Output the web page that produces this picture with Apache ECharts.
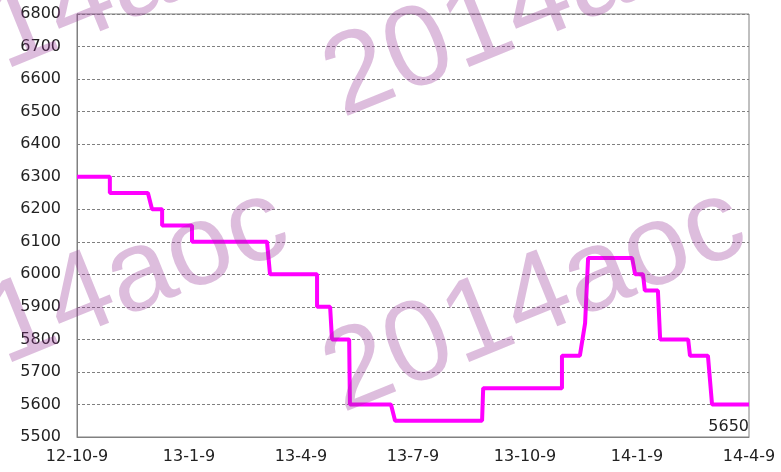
<!DOCTYPE html>
<html>
<head>
<meta charset="utf-8">
<script src="https://cdn.jsdelivr.net/npm/echarts@6/dist/echarts.min.js"></script>
<style>
  html, body { margin: 0; padding: 0; background: #fff; }
  #main { width: 781px; height: 472px; }
</style>
</head>
<body>
<div id="main"></div>
<script>
// x: months since 2012-10-9, y: price
var monthOffsets = [0, 0.88, 0.88, 1.90, 2.01, 2.28, 2.28, 3.08, 3.08, 5.09, 5.17, 6.43, 6.43, 6.78, 6.83, 7.29, 7.31, 8.41, 8.52, 10.85, 10.88, 12.99, 12.99, 13.47, 13.61, 13.69, 14.87, 14.95, 15.16, 15.21, 15.56, 15.62, 16.37, 16.42, 16.90, 17.01, 18.0];
var prices = [6300, 6300, 6250, 6250, 6200, 6200, 6150, 6150, 6100, 6100, 6000, 6000, 5900, 5900, 5800, 5800, 5600, 5600, 5550, 5550, 5650, 5650, 5750, 5750, 5850, 6050, 6050, 6000, 6000, 5950, 5950, 5800, 5800, 5750, 5750, 5600, 5600];
var xTickLabels = ['12-10-9', '13-1-9', '13-4-9', '13-7-9', '13-10-9', '14-1-9', '14-4-9'];
var lastLabel = '5650';

var points = monthOffsets.map(function (m, i) { return [m, prices[i]]; });

var font = 'DejaVu Sans';
var wmText = '2014aoc';
var wmStyle = { text: wmText, font: '115px "Liberation Sans"', fill: 'rgba(150,50,150,0.32)' };
var wmPos = [[352, 437], [352, 142], [-105, 437], [-105, 142]];

var myChart = echarts.init(document.getElementById('main'));
var options = {
    animation: false,
    grid: { left: 77, right: 32, top: 14, bottom: 35, show: true, borderColor: '#808080', borderWidth: 1 },
    xAxis: {
        type: 'value', min: 0, max: 18, interval: 3,
        axisLine: { show: true, lineStyle: { color: '#808080', width: 1 } },
        axisTick: { show: false },
        splitLine: { show: false },
        axisLabel: {
            color: '#222', fontFamily: font, fontSize: 16, margin: 12,
            formatter: function (v) { return xTickLabels[Math.round(v / 3)]; }
        }
    },
    yAxis: {
        type: 'value', min: 5500, max: 6800, interval: 100,
        axisLine: { show: true, lineStyle: { color: '#808080', width: 1 } },
        axisTick: { show: false },
        splitLine: { show: true, lineStyle: { color: '#808080', type: [3, 2], width: 1 } },
        axisLabel: { color: '#222', fontFamily: font, fontSize: 16, margin: 16,
            formatter: function (v) { return String(v); } }
    },
    series: [{
        type: 'line',
        data: points,
        showSymbol: false,
        lineStyle: { color: '#ff00ff', width: 4 },
        z: 3
    }],
    graphic: wmPos.map(function (p) {
        return {
            type: 'text', x: p[0], y: p[1], rotation: 22 * Math.PI / 180,
            style: Object.assign({ textVerticalAlign: 'bottom' }, wmStyle),
            z: 100, silent: true
        };
    }).concat([{
        type: 'text', right: 32, bottom: 37, z: 50,
        style: { text: lastLabel, font: '16px "DejaVu Sans"', fill: '#222' }
    }])
};
myChart.setOption(options, true);
</script>
</body>
</html>
